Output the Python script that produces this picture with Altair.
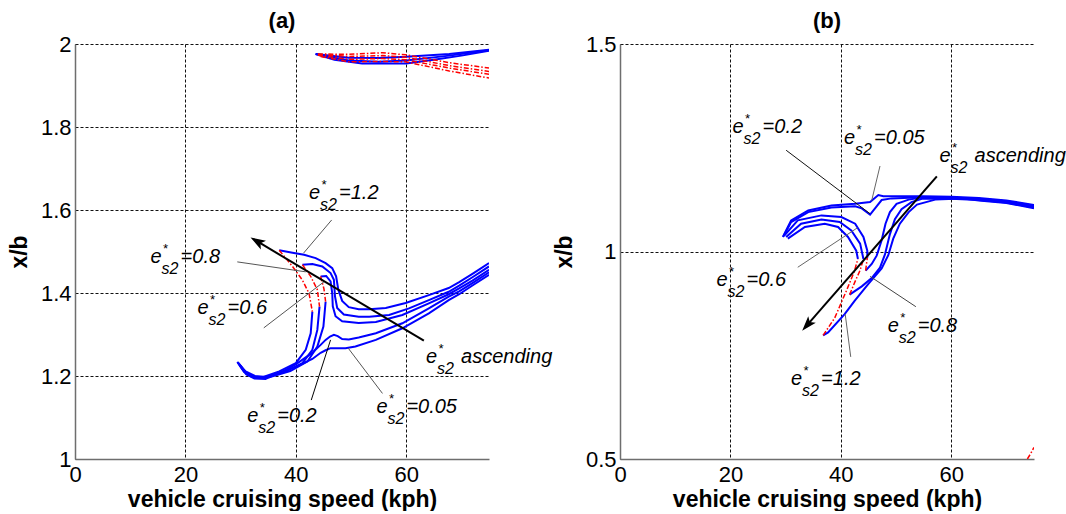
import math
import altair as alt
import pandas as pd

FONT = "Liberation Sans"
BLUE = "#0000ff"
RED = "#ff0000"

# ---------------- panel (a): x/b against cruising speed ----------------
# S-shaped solutions: stable upper branch, unstable fold, stable lower branch
a_e120_upper = [(75, 1.472), (72, 1.446), (69.6, 1.426), (67.7, 1.412), (64.1, 1.395), (59.9, 1.376),
                (56.3, 1.364), (53.3, 1.361), (51.4, 1.361), (49.6, 1.366), (48.4, 1.381), (47.7, 1.408),
                (47.3, 1.440), (46.6, 1.460), (45.4, 1.472), (43.6, 1.484), (41.5, 1.492), (39.4, 1.497),
                (37.0, 1.503)]
a_e120_fold = [(37.0, 1.503), (39.4, 1.464), (41.2, 1.431), (42.4, 1.399), (43.0, 1.355)]
a_e120_lower = [(43.0, 1.355), (42.7, 1.303), (41.8, 1.263), (40.0, 1.231), (37.0, 1.211), (34.0, 1.197),
                (32.0, 1.198), (30.6, 1.210), (29.4, 1.234)]

a_e080_upper = [(75, 1.464), (72, 1.438), (69.6, 1.418), (67.7, 1.403), (64.1, 1.383), (60.5, 1.363),
                (56.9, 1.347), (53.3, 1.343), (51.4, 1.343), (48.7, 1.348), (47.5, 1.364), (47.1, 1.392),
                (46.9, 1.432), (46.3, 1.448), (44.8, 1.464), (43.0, 1.470), (41.2, 1.468)]
a_e080_fold = [(41.2, 1.468), (42.7, 1.440), (43.9, 1.408), (44.3, 1.367)]
a_e080_lower = [(44.3, 1.367), (43.9, 1.311), (43.0, 1.263), (41.2, 1.231), (38.0, 1.210), (34.5, 1.196),
                (32.2, 1.199), (30.7, 1.211), (29.5, 1.233)]

a_e060_upper = [(75, 1.456), (72, 1.430), (69.6, 1.411), (67.7, 1.397), (64.1, 1.375), (59.3, 1.347),
                (54.5, 1.330), (51.4, 1.328), (48.4, 1.332), (47.2, 1.344), (46.7, 1.368), (46.6, 1.400),
                (46.3, 1.428), (45.5, 1.441), (44.5, 1.440)]
a_e060_fold = [(44.5, 1.440), (45.1, 1.410), (45.4, 1.379)]
a_e060_lower = [(45.4, 1.379), (45.0, 1.319), (43.9, 1.271), (42.1, 1.235), (39.0, 1.212), (35.2, 1.197),
                (32.6, 1.200), (30.9, 1.211), (29.6, 1.231)]

a_e020 = [(75, 1.450), (72, 1.424), (69.6, 1.404), (67.7, 1.391), (64.1, 1.363), (59.3, 1.327), (54.5, 1.303),
          (51.4, 1.293), (49.6, 1.288), (48.4, 1.289), (47.6, 1.296), (46.9, 1.299), (46.2, 1.295),
          (45.4, 1.287), (44.5, 1.275), (42.9, 1.255), (40.0, 1.228), (37.5, 1.210), (35.0, 1.199),
          (33.0, 1.195), (31.2, 1.203), (29.8, 1.228)]
a_e005 = [(75, 1.444), (72, 1.418), (69.6, 1.397), (67.7, 1.383), (64.1, 1.351), (59.3, 1.315), (54.5, 1.287),
          (50.8, 1.271), (49.0, 1.267), (46.3, 1.267), (45.4, 1.262), (44.5, 1.256), (43.0, 1.241),
          (40.0, 1.222), (37.0, 1.208), (34.5, 1.193), (32.5, 1.194), (31.0, 1.204), (29.8, 1.226)]

# second solution family near x/b = 2
a_top_blue_1 = [(43.6, 1.976), (49.6, 1.967), (55.0, 1.966), (60.0, 1.969), (67.8, 1.976), (75, 1.986)]
a_top_blue_2 = [(43.6, 1.976), (49.6, 1.960), (55.0, 1.957), (60.0, 1.960), (67.8, 1.972), (75, 1.985)]
a_top_blue_3 = [(43.6, 1.976), (47.0, 1.962), (52.0, 1.953), (60.0, 1.953), (65.0, 1.962), (70.0, 1.972),
                (75, 1.984)]
a_top_red_1 = [(44.0, 1.976), (49.6, 1.975), (55.7, 1.979), (59.9, 1.974), (67.8, 1.955), (75, 1.942)]
a_top_red_2 = [(44.0, 1.975), (49.6, 1.970), (55.7, 1.972), (59.9, 1.968), (67.8, 1.948), (75, 1.934)]
a_top_red_3 = [(44.0, 1.973), (49.6, 1.963), (55.7, 1.965), (59.9, 1.962), (67.8, 1.942), (75, 1.927)]
a_top_red_4 = [(44.5, 1.970), (49.6, 1.957), (55.7, 1.958), (59.9, 1.957), (67.8, 1.935), (75, 1.918)]

# label text after the e*_s2 symbol, with the symbol's anchor (kph, x/b)
a_label_text = ["=1.2", "=0.8", "=0.6", "=0.2", "=0.05", "ascending"]
a_label_x = [42.4, 13.7, 22.2, 31.2, 54.6, 63.6]
a_label_y = [1.627, 1.472, 1.349, 1.088, 1.110, 1.231]
# leader lines: start (x, y) -> end (x2, y2), stroke colour
a_leaders = [(46.5, 1.576, 41.4, 1.496, "#555555"), (29.4, 1.475, 41.8, 1.451, "#555555"),
             (34.2, 1.316, 45.1, 1.427, "#555555"), (42.8, 1.142, 46.3, 1.287, "#000000"),
             (55.7, 1.158, 49.5, 1.267, "#555555")]
a_arrow = [(63.2, 1.285), (31.8, 1.534)]

# ---------------- panel (b) ----------------
b_e005 = [(75, 1.112), (70, 1.123), (65, 1.129), (60, 1.132), (55, 1.133), (49.2, 1.133), (47.7, 1.133),
          (46.8, 1.136), (45.3, 1.119), (42.6, 1.115), (38.3, 1.111), (34.1, 1.099), (31.0, 1.075), (29.5, 1.035)]
b_e020 = [(75, 1.110), (70, 1.121), (65, 1.127), (60, 1.130), (53.5, 1.130), (49.2, 1.128), (47.4, 1.124),
          (46.2, 1.104), (45.3, 1.089), (43.8, 1.104), (42.6, 1.109), (38.3, 1.106), (34.1, 1.095),
          (31.0, 1.071), (29.6, 1.036)]
b_e060_rise = [(75, 1.108), (70, 1.120), (65, 1.126), (60, 1.129), (54.7, 1.130), (52.3, 1.125), (50.1, 1.115),
               (48.9, 1.095), (48.1, 1.067), (47.4, 1.027), (46.5, 0.990), (45.6, 0.970), (44.5, 0.954)]
b_e060_fold = [(44.5, 0.954), (44.8, 0.985)]
b_e060_arc = [(44.8, 0.985), (44.8, 1.002), (44.1, 1.035), (42.6, 1.067), (40.1, 1.083), (36.5, 1.087),
              (32.2, 1.075), (29.8, 1.039)]
b_e080_rise = [(75, 1.106), (70, 1.118), (65, 1.124), (60, 1.127), (54.7, 1.127), (52.8, 1.119), (51.0, 1.102),
               (49.8, 1.078), (48.9, 1.042), (48.0, 0.993), (47.1, 0.961), (45.6, 0.936), (43.8, 0.916),
               (41.6, 0.896)]
b_e080_fold = [(41.6, 0.896), (42.5, 0.925), (43.5, 0.955), (44.1, 0.982)]
b_e080_arc = [(44.1, 0.982), (43.5, 1.019), (41.9, 1.051), (39.8, 1.071), (36.5, 1.077), (32.8, 1.067),
              (30.1, 1.035)]
b_e120_rise = [(75, 1.104), (70, 1.117), (65, 1.123), (61.9, 1.128), (57.1, 1.125), (53.8, 1.113), (52.3, 1.095),
               (50.7, 1.067), (49.5, 1.031), (48.6, 0.991), (47.4, 0.959), (45.0, 0.922), (42.5, 0.881),
               (40.7, 0.849), (37.7, 0.805), (36.8, 0.798)]
b_e120_fold = [(36.8, 0.798), (38.9, 0.840), (41.0, 0.905), (42.4, 0.950), (43.1, 0.982)]
b_e120_arc = [(43.1, 0.982), (42.8, 1.002), (41.3, 1.035), (39.5, 1.059), (37.1, 1.067), (33.5, 1.059),
              (30.4, 1.031)]
b_edge_red = [(73.8, 0.500), (74.4, 0.513), (75.0, 0.528)]

b_label_text = ["=0.2", "=0.05", "ascending", "=0.6", "=0.8", "=1.2"]
b_label_x = [20.4, 40.6, 57.9, 17.5, 48.5, 31.0]
b_label_y = [1.286, 1.259, 1.216, 0.918, 0.807, 0.678]
b_leaders = [(30.1, 1.244, 45.3, 1.091, "#111111"), (47.1, 1.206, 45.6, 1.123, "#666666"),
             (32.2, 0.962, 43.0, 1.057, "#666666"), (53.6, 0.867, 45.3, 0.940, "#444444"),
             (41.8, 0.746, 40.8, 0.849, "#666666")]
b_arrow = [(57.4, 1.181), (33.0, 0.809)]

A_CURVES = [
    ("e120", [("stable", a_e120_upper), ("unstable", a_e120_fold), ("stable", a_e120_lower)]),
    ("e080", [("stable", a_e080_upper), ("unstable", a_e080_fold), ("stable", a_e080_lower)]),
    ("e060", [("stable", a_e060_upper), ("unstable", a_e060_fold), ("stable", a_e060_lower)]),
    ("e020", [("stable", a_e020)]),
    ("e005", [("stable", a_e005)]),
    ("topb1", [("stable", a_top_blue_1)]),
    ("topb2", [("stable", a_top_blue_2)]),
    ("topb3", [("stable", a_top_blue_3)]),
    ("topr1", [("unstable", a_top_red_1)]),
    ("topr2", [("unstable", a_top_red_2)]),
    ("topr3", [("unstable", a_top_red_3)]),
    ("topr4", [("unstable", a_top_red_4)]),
]
B_CURVES = [
    ("e005", [("stable", b_e005)]),
    ("e020", [("stable", b_e020)]),
    ("e060", [("stable", b_e060_rise), ("unstable", b_e060_fold), ("stable", b_e060_arc)]),
    ("e080", [("stable", b_e080_rise), ("unstable", b_e080_fold), ("stable", b_e080_arc)]),
    ("e120", [("stable", b_e120_rise), ("unstable", b_e120_fold), ("stable", b_e120_arc)]),
    ("edge", [("unstable", b_edge_red)]),
]

PLOT_W, PLOT_H = 414, 415
X_DOMAIN = [0, 75]
LABEL_SIZE = 20


def curve_frame(curves):
    rows = []
    for name, parts in curves:
        for k, (kind, pts) in enumerate(parts):
            for i, (x, y) in enumerate(pts):
                rows.append({"seg": f"{name}-{k}", "kind": kind, "i": i, "x": x, "y": y})
    return pd.DataFrame(rows)


def panel(title, curves, label_text, label_x, label_y, leaders, arrow, ydom, yvals):
    xs = alt.Scale(domain=X_DOMAIN, nice=False, zero=False)
    ys = alt.Scale(domain=ydom, nice=False, zero=False)
    xaxis = alt.Axis(values=[0, 20, 40, 60], format="d", title="vehicle cruising speed (kph)",
                     labelFlush=False, labelOverlap=False, labelPadding=5, titlePadding=3)
    yaxis = alt.Axis(values=yvals, labelExpr="'' + datum.value", title="x/b",
                     labelFlush=False, labelOverlap=False, labelPadding=4, titlePadding=9)

    def X(f):
        return alt.X(f, type="quantitative", scale=xs, axis=xaxis)

    def Y(f):
        return alt.Y(f, type="quantitative", scale=ys, axis=yaxis)

    df = curve_frame(curves)
    stable = alt.Chart(df).transform_filter(alt.datum.kind == "stable").mark_line(
        color=BLUE, strokeWidth=2, clip=True
    ).encode(x=X("x"), y=Y("y"), detail="seg:N", order="i:Q")
    unstable = alt.Chart(df).transform_filter(alt.datum.kind == "unstable").mark_line(
        color=RED, strokeWidth=1.5, strokeDash=[5, 2, 1.5, 2], clip=True
    ).encode(x=X("x"), y=Y("y"), detail="seg:N", order="i:Q")

    lead_df = pd.DataFrame(leaders, columns=["x", "y", "x2", "y2", "c"])
    leads = alt.Chart(lead_df).mark_rule(strokeWidth=1).encode(
        x=X("x"), y=Y("y"), x2="x2:Q", y2="y2:Q", color=alt.Color("c:N", scale=None)
    )

    # arrow: shaft plus a filled head turned along the shaft direction
    (x0, y0), (x1, y1) = arrow
    px_x = PLOT_W / (X_DOMAIN[1] - X_DOMAIN[0])
    px_y = PLOT_H / (ydom[1] - ydom[0])
    dxp, dyp = (x1 - x0) * px_x, -(y1 - y0) * px_y
    length = math.hypot(dxp, dyp)
    ux, uy = dxp / length, dyp / length
    angle = math.degrees(math.atan2(ux, -uy)) % 360
    half = 7.5
    cx, cy = x1 - half * ux / px_x, y1 + half * uy / px_y
    shaft = alt.Chart(pd.DataFrame([{"x": x0, "y": y0, "x2": cx, "y2": cy}])).mark_rule(
        color="black", strokeWidth=2
    ).encode(x=X("x"), y=Y("y"), x2="x2:Q", y2="y2:Q")
    head = alt.Chart(pd.DataFrame([{"x": cx, "y": cy}])).mark_point(
        shape="M0,-1L0.67,1L0,0.55L-0.67,1Z", size=225, filled=True, color="black",
        opacity=1, angle=angle, strokeWidth=0
    ).encode(x=X("x"), y=Y("y"))

    lab_df = pd.DataFrame({"rest": label_text, "x": label_x, "y": label_y})
    lab_df["word"] = ~lab_df["rest"].str.startswith("=")
    base = alt.Chart(lab_df).encode(x=X("x"), y=Y("y"))
    common = dict(align="left", baseline="alphabetic", fontStyle="italic", font=FONT, color="black")
    t_e = base.mark_text(text="e", fontSize=LABEL_SIZE, **common)
    t_star = base.mark_text(text="*", fontSize=13, dx=12, dy=-10, **common)
    t_sub = base.mark_text(text="s2", fontSize=16, dx=11, dy=11, **common)
    t_val = base.transform_filter("!datum.word").mark_text(
        fontSize=LABEL_SIZE, dx=30, **common).encode(text="rest:N")
    t_word = base.transform_filter("datum.word").mark_text(
        fontSize=LABEL_SIZE, dx=35, **common).encode(text="rest:N")

    return alt.layer(stable, unstable, leads, shaft, head, t_e, t_star, t_sub, t_val, t_word).properties(
        width=PLOT_W, height=PLOT_H,
        title=alt.TitleParams(text=title, fontSize=22, fontWeight="bold", font=FONT, color="black",
                              offset=-17, baseline="alphabetic", anchor="middle"),
    )


pa = panel("(a)", A_CURVES, a_label_text, a_label_x, a_label_y, a_leaders, a_arrow,
           [1, 2], [1, 1.2, 1.4, 1.6, 1.8, 2])
pb = panel("(b)", B_CURVES, b_label_text, b_label_x, b_label_y, b_leaders, b_arrow,
           [0.5, 1.5], [0.5, 1, 1.5])

chart = alt.hconcat(pa, pb, spacing=131, bounds="flush").properties(
    padding={"left": 8, "top": 10, "right": 0, "bottom": 0}
).configure_view(stroke=None).configure_axis(
    labelFont=FONT, titleFont=FONT, labelFontSize=22, titleFontSize=23, titleFontWeight="bold",
    labelColor="black", titleColor="black", ticks=False,
    domainColor="#6e6e6e", domainWidth=1.5,
    grid=True, gridColor="#111111", gridDash=[3, 2], gridWidth=1, gridOpacity=1,
)

chart.save("out.html", embed_options={"renderer": "svg", "actions": False})
